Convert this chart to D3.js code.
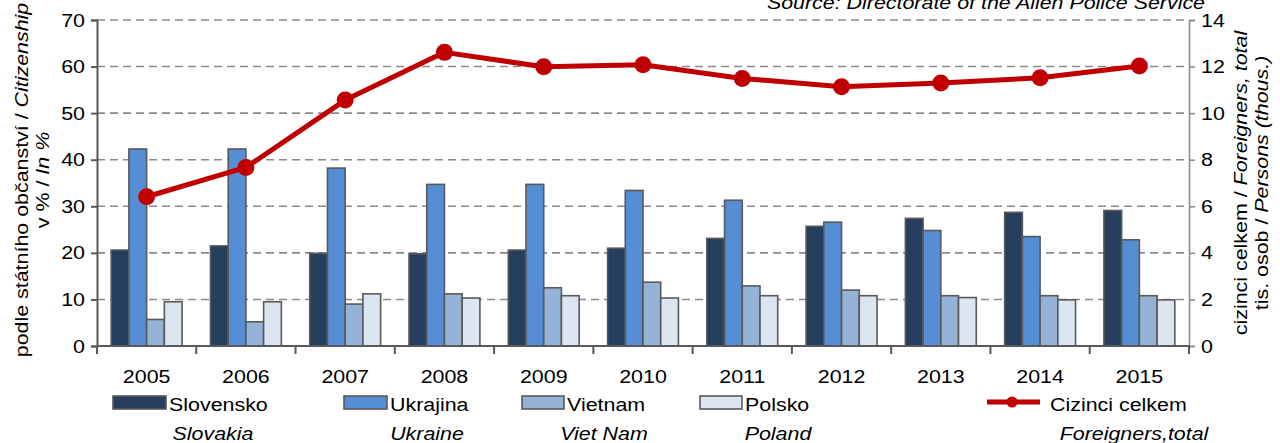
<!DOCTYPE html>
<html>
<head>
<meta charset="utf-8">
<script src="https://cdn.jsdelivr.net/npm/d3@7"></script>
<style>
  html, body { margin: 0; padding: 0; background: #fff; }
  svg text { font-family: "Liberation Sans", Arial, sans-serif; fill: #000; }
</style>
</head>
<body>
<svg id="chart" width="1280" height="443"></svg>
<script>
// data
var years = [ '2005', '2006', '2007', '2008', '2009', '2010', '2011', '2012', '2013', '2014', '2015' ];
var slovensko = [ 20.6, 21.5, 19.9, 19.8, 20.6, 21.0, 23.1, 25.7, 27.4, 28.7, 29.1 ];
var ukrajina = [ 42.3, 42.3, 38.2, 34.7, 34.7, 33.4, 31.3, 26.6, 24.8, 23.5, 22.8 ];
var vietnam = [ 5.7, 5.2, 9.0, 11.2, 12.5, 13.7, 12.9, 12.0, 10.8, 10.8, 10.8 ];
var polsko = [ 9.5, 9.5, 11.2, 10.3, 10.8, 10.3, 10.8, 10.8, 10.4, 9.9, 9.9 ];
var cizinci = [ 6.41, 7.67, 10.56, 12.61, 11.99, 12.08, 11.49, 11.13, 11.29, 11.52, 12.02 ];
var leftTicks = [ 0, 10, 20, 30, 40, 50, 60, 70 ];
var rightTicks = [ 0, 2, 4, 6, 8, 10, 12, 14 ];

var seriesNames = [ 'Slovensko', 'Ukrajina', 'Vietnam', 'Polsko' ];
var seriesEn = [ 'Slovakia', 'Ukraine', 'Viet Nam', 'Poland' ];
var seriesData = [ slovensko, ukrajina, vietnam, polsko ];
var seriesColors = [ '#263f5f', '#558ed5', '#95b3d7', '#dce6f2' ];

( function() {

var svg = d3.select( '#chart' ),
    mLeft = 97, mRight = 1189, mTop = 20, mBottom = 346,
    K = 1.19, fontSize = 18;

var x0 = d3.scaleBand().domain( years ).range( [ mLeft, mRight ] ).padding( 0 ),
    bw = x0.bandwidth(),
    x1 = d3.scaleBand().domain( seriesNames ).range( [ bw * 0.143, bw * 0.857 ] ).padding( 0 ),
    yL = d3.scaleLinear().domain( [ 0, 70 ] ).range( [ mBottom, mTop ] ),
    yR = d3.scaleLinear().domain( [ 0, 14 ] ).range( [ mBottom, mTop ] );

/**
 * text stretched along its reading direction like the original
 * @param parts  array of [ string, italic ]
 */
function addText( parent, x, y, anchor, parts, rot ) {
    var t = parent.append( 'text' )
        .attr( 'transform', 'translate(' + x + ',' + y + ')' + ( rot ? ' rotate(' + rot + ')' : '' ) + ' scale(' + K + ',1)' )
        .attr( 'text-anchor', anchor )
        .style( 'font-size', fontSize + 'px' );
    parts.forEach( function( p ) {
        t.append( 'tspan' ).style( 'font-style', p[ 1 ] ? 'italic' : 'normal' ).text( p[ 0 ] );
    } );
    return t;
}

// gridlines
svg.append( 'g' ).selectAll( 'line' )
    .data( leftTicks.filter( function( d ) { return d > 0; } ) )
    .enter().append( 'line' )
    .attr( 'x1', mLeft ).attr( 'x2', mRight )
    .attr( 'y1', yL ).attr( 'y2', yL )
    .attr( 'stroke', '#8a8a8a' ).attr( 'stroke-width', 1.6 )
    .attr( 'stroke-dasharray', '8,5' );

// bars
var groups = svg.append( 'g' ).selectAll( 'g' )
    .data( years ).enter().append( 'g' )
    .attr( 'transform', function( d ) { return 'translate(' + x0( d ) + ',0)'; } );

groups.selectAll( 'rect' )
    .data( function( d, i ) {
        return seriesNames.map( function( s, j ) { return { s: s, v: seriesData[ j ][ i ], c: seriesColors[ j ] }; } );
    } )
    .enter().append( 'rect' )
    .attr( 'x', function( d ) { return x1( d.s ); } )
    .attr( 'width', x1.bandwidth() )
    .attr( 'y', function( d ) { return yL( d.v ); } )
    .attr( 'height', function( d ) { return yL( 0 ) - yL( d.v ); } )
    .attr( 'fill', function( d ) { return d.c; } )
    .attr( 'stroke', '#595959' ).attr( 'stroke-width', 1.6 );

// axes
var axL = svg.append( 'g' ).attr( 'transform', 'translate(' + mLeft + ',0)' )
    .call( d3.axisLeft( yL ).tickValues( leftTicks ).tickSize( 6 ).tickFormat( '' ) );
axL.select( '.domain' ).attr( 'stroke', '#595959' ).attr( 'stroke-width', 2 );
axL.selectAll( '.tick line' ).attr( 'stroke', '#595959' ).attr( 'stroke-width', 2 );
leftTicks.forEach( function( v ) {
    addText( svg, mLeft - 12, yL( v ) + 6.5, 'end', [ [ String( v ) ] ] );
} );

var axR = svg.append( 'g' ).attr( 'transform', 'translate(' + mRight + ',0)' )
    .call( d3.axisRight( yR ).tickValues( rightTicks ).tickSize( 6 ).tickFormat( '' ) );
axR.select( '.domain' ).attr( 'stroke', '#8c8c8c' ).attr( 'stroke-width', 1.6 );
axR.selectAll( '.tick line' ).attr( 'stroke', '#8c8c8c' ).attr( 'stroke-width', 1.6 );
rightTicks.forEach( function( v ) {
    addText( svg, mRight + 12, yR( v ) + 6.5, 'start', [ [ String( v ) ] ] );
} );

var axB = svg.append( 'g' ).attr( 'transform', 'translate(0,' + mBottom + ')' );
axB.append( 'line' ).attr( 'x1', mLeft ).attr( 'x2', mRight + 1 )
    .attr( 'y1', 0 ).attr( 'y2', 0 ).attr( 'stroke', '#595959' ).attr( 'stroke-width', 2 );
axB.selectAll( 'line.tk' )
    .data( years.concat( [ 'end' ] ) ).enter().append( 'line' ).attr( 'class', 'tk' )
    .attr( 'x1', function( d ) { return d === 'end' ? mRight : x0( d ); } )
    .attr( 'x2', function( d ) { return d === 'end' ? mRight : x0( d ); } )
    .attr( 'y1', 0 ).attr( 'y2', 8 )
    .attr( 'stroke', '#595959' ).attr( 'stroke-width', 2 );
years.forEach( function( yr ) {
    addText( svg, x0( yr ) + bw / 2, 383, 'middle', [ [ yr ] ] );
} );

// line series
var line = d3.line()
    .x( function( d, i ) { return x0( years[ i ] ) + bw / 2; } )
    .y( function( d ) { return yR( d ); } );

svg.append( 'path' ).datum( cizinci )
    .attr( 'd', line )
    .attr( 'fill', 'none' ).attr( 'stroke', '#c00000' ).attr( 'stroke-width', 5 )
    .attr( 'stroke-linejoin', 'round' );

svg.append( 'g' ).selectAll( 'circle' )
    .data( cizinci ).enter().append( 'circle' )
    .attr( 'cx', function( d, i ) { return x0( years[ i ] ) + bw / 2; } )
    .attr( 'cy', function( d ) { return yR( d ); } )
    .attr( 'r', 8.5 ).attr( 'fill', '#c00000' );

// axis titles
addText( svg, 28, 180, 'middle', [ [ 'podle státního občanství / ' ], [ 'Citizenship', true ] ], -90 );
addText( svg, 49, 180, 'middle', [ [ 'v % / ' ], [ 'In %', true ] ], -90 );
addText( svg, 1247, 183, 'middle', [ [ 'cizinci celkem / ' ], [ 'Foreigners, total', true ] ], -90 );
addText( svg, 1268, 183, 'middle', [ [ 'tis. osob / ' ], [ 'Persons (thous.)', true ] ], -90 );

// source
addText( svg, 1205, 9, 'end', [ [ 'Source: Directorate of the Alien Police Service', true ] ] );

// legend
var legX = [ 113, 344, 522, 700 ],
    legW = [ 53, 43, 42, 42 ],
    enX = [ 213, 427, 604, 778 ];
var leg = svg.append( 'g' );
seriesNames.forEach( function( s, j ) {
    leg.append( 'rect' )
        .attr( 'x', legX[ j ] ).attr( 'y', 396 )
        .attr( 'width', legW[ j ] ).attr( 'height', 13 )
        .attr( 'fill', seriesColors[ j ] )
        .attr( 'stroke', '#595959' ).attr( 'stroke-width', 1.6 );
    addText( leg, legX[ j ] + legW[ j ] + 3, 411, 'start', [ [ s ] ] );
    addText( leg, enX[ j ], 440, 'middle', [ [ seriesEn[ j ], true ] ] );
} );
leg.append( 'line' )
    .attr( 'x1', 987 ).attr( 'x2', 1040 ).attr( 'y1', 402 ).attr( 'y2', 402 )
    .attr( 'stroke', '#c00000' ).attr( 'stroke-width', 5 );
leg.append( 'circle' ).attr( 'cx', 1012 ).attr( 'cy', 402 ).attr( 'r', 5.5 ).attr( 'fill', '#c00000' );
addText( leg, 1050, 411, 'start', [ [ 'Cizinci celkem' ] ] );
addText( leg, 1134, 440, 'middle', [ [ 'Foreigners,total', true ] ] );

} )();
</script>
</body>
</html>
